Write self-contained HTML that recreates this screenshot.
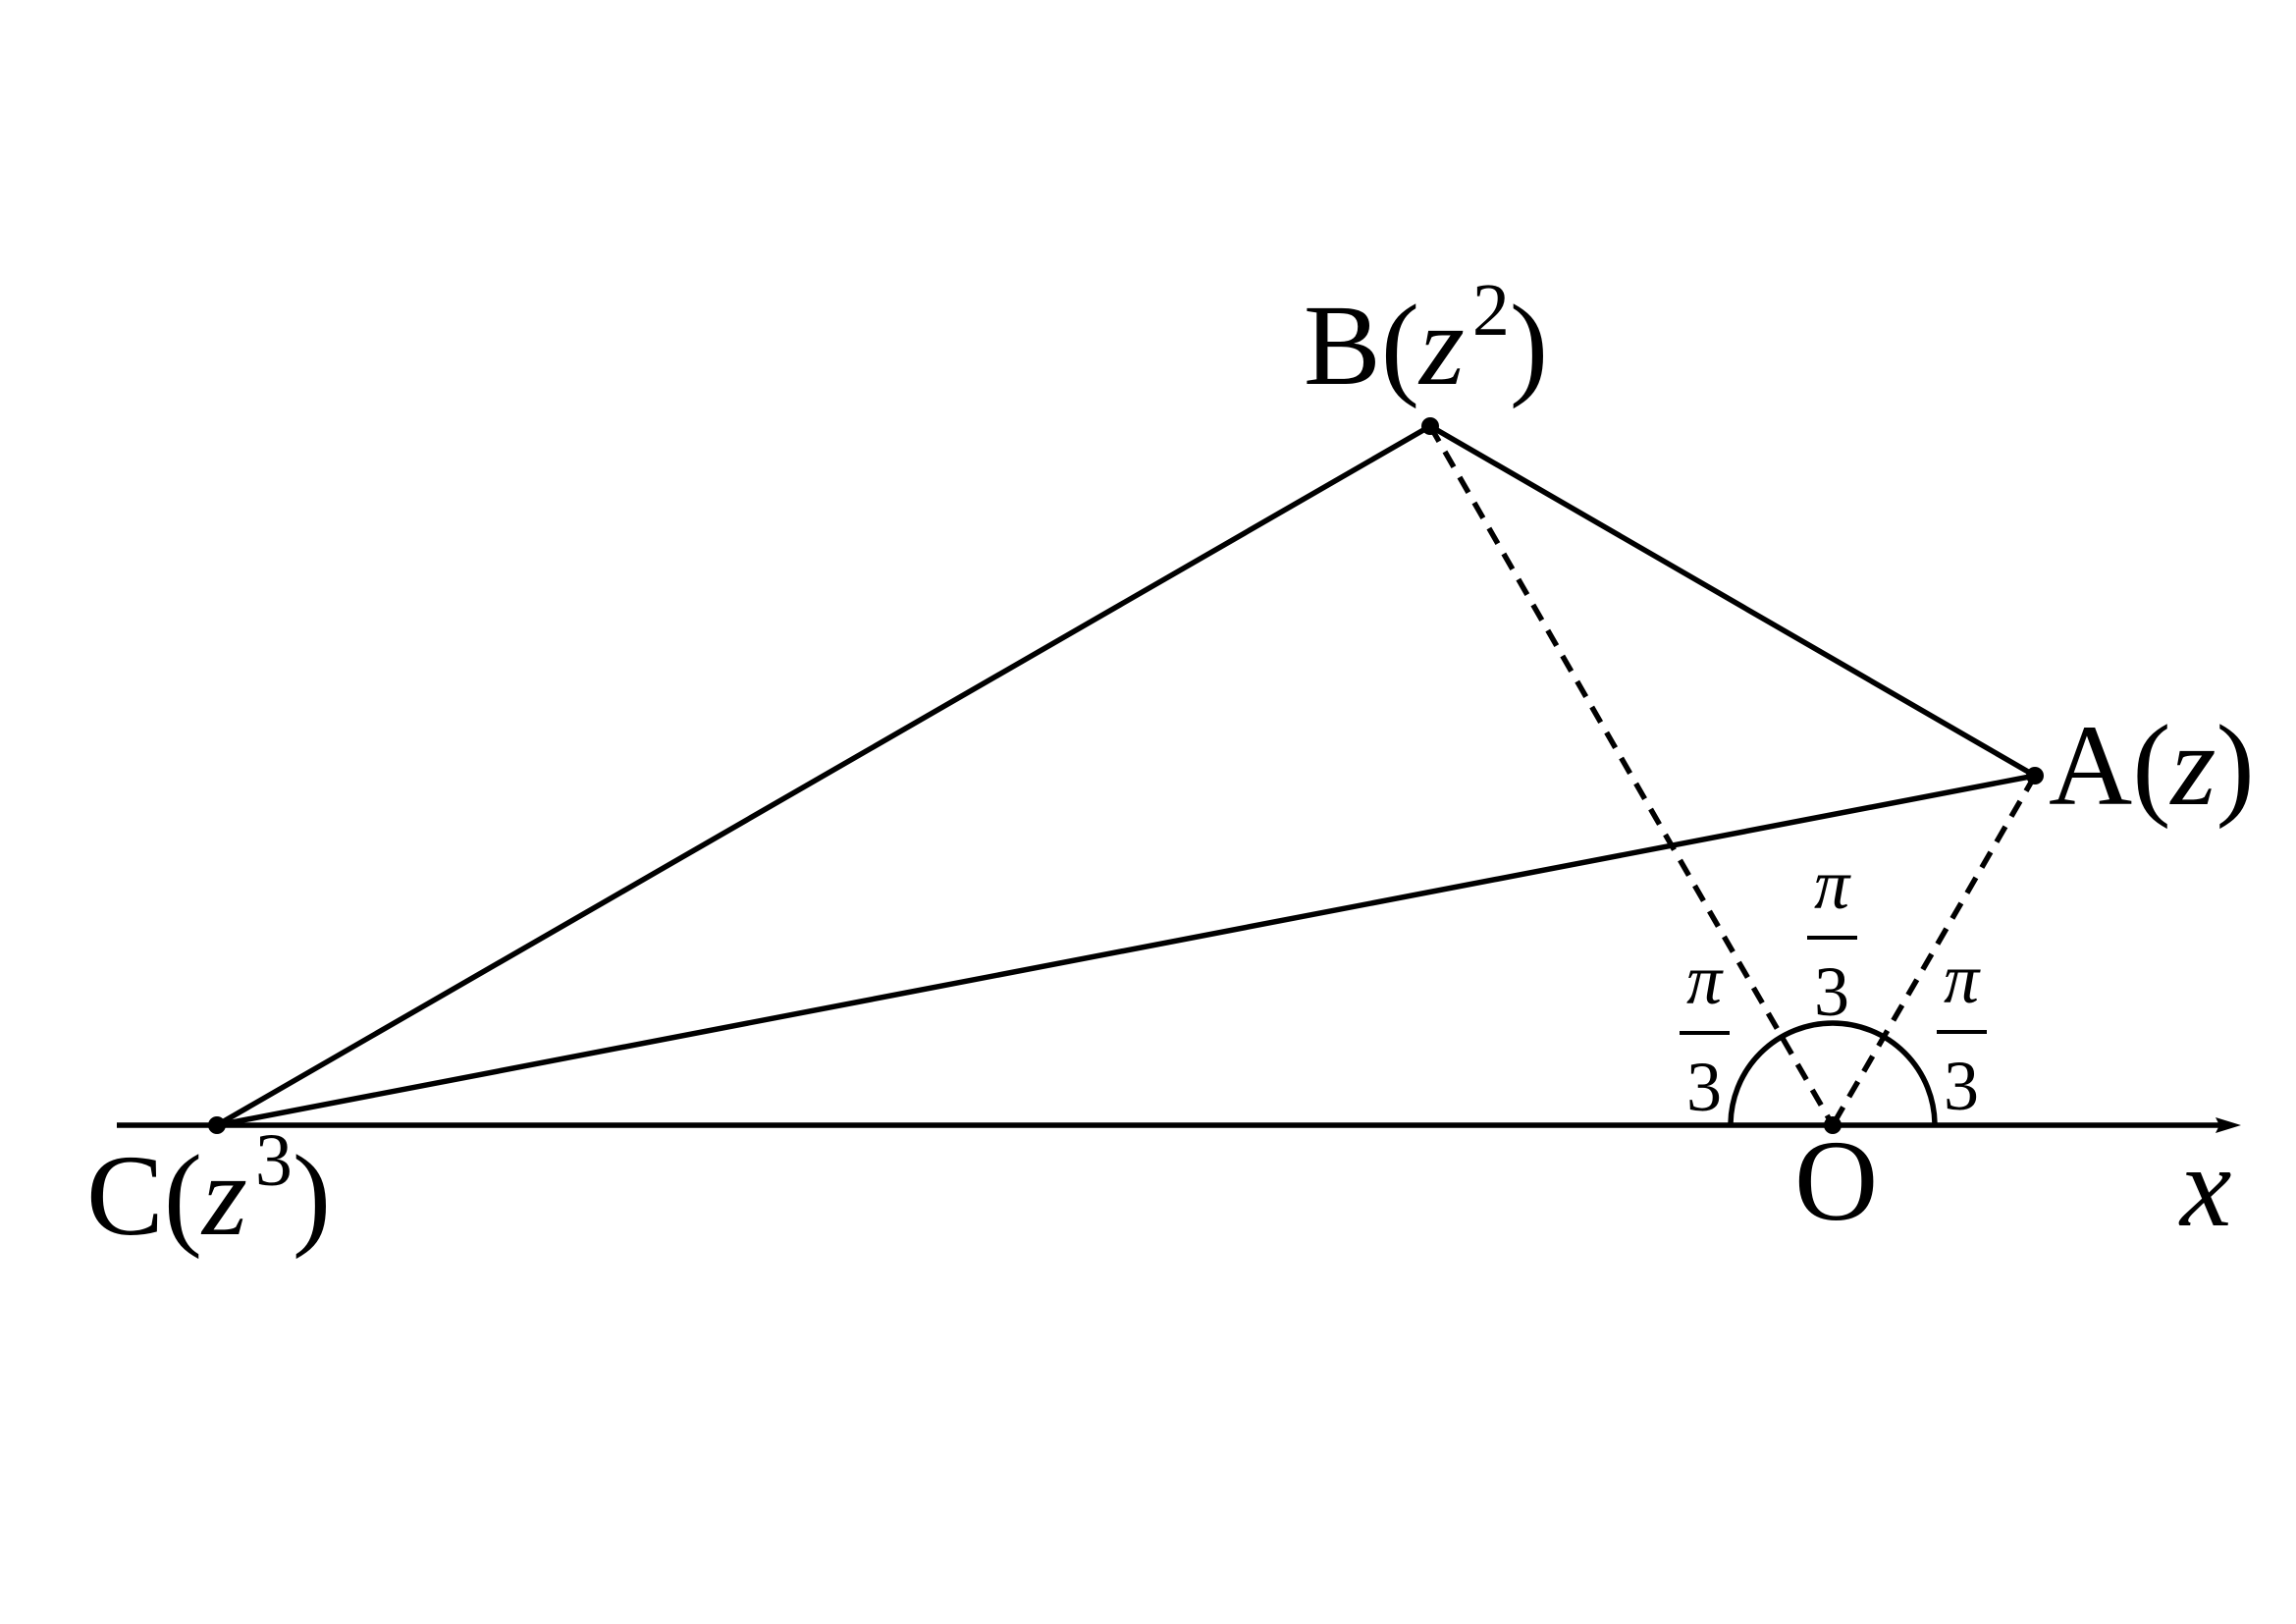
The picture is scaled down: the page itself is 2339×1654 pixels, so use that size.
<!DOCTYPE html>
<html><head><meta charset="utf-8"><style>html,body{margin:0;padding:0;background:#fff}svg{display:block}</style></head>
<body>
<svg width="2339" height="1654" viewBox="0 0 2339 1654" xmlns="http://www.w3.org/2000/svg" font-family="'Liberation Serif', serif" fill="#000">
<g stroke="#000" stroke-width="5.5" fill="none">
<line x1="119" y1="1146" x2="2262" y2="1146"/>
<line x1="221" y1="1146" x2="1457" y2="434"/>
<line x1="1457" y1="434" x2="2073" y2="790"/>
<line x1="221" y1="1146" x2="2073" y2="790"/>
<line x1="1457" y1="434" x2="1867" y2="1146" stroke-dasharray="18,12"/>
<line x1="2073" y1="790" x2="1867" y2="1146" stroke-dasharray="18,12"/>
<path d="M1763 1146 A104 104 0 0 1 1971 1146"/>
</g>
<polygon points="2283,1146 2257,1138 2261,1146 2257,1154"/>
<circle cx="1457" cy="434" r="9"/><circle cx="2073" cy="790" r="9"/>
<circle cx="221" cy="1146" r="9"/><circle cx="1867" cy="1146" r="9"/>
<g font-size="118">
<text x="1328" y="391">B(<tspan font-style="italic">z</tspan><tspan font-size="76" dx="8" dy="-50">2</tspan><tspan dy="50">)</tspan></text>
<text x="2087" y="819">A(<tspan font-style="italic">z</tspan>)</text>
<text x="88" y="1257">C(<tspan font-style="italic">z</tspan><tspan font-size="76" dx="8" dy="-50">3</tspan><tspan dy="50">)</tspan></text>
<text x="1828" y="1242">O</text>
<text x="2221" y="1248" font-style="italic">x</text>
</g>
<g font-size="72" text-anchor="middle">
<text x="1866" y="925" font-style="italic">π</text><rect x="1841" y="953" width="51" height="4"/><text x="1866" y="1034">3</text>
<text x="1736" y="1022" font-style="italic">π</text><rect x="1711" y="1050" width="51" height="4"/><text x="1736" y="1131">3</text>
<text x="1998" y="1021" font-style="italic">π</text><rect x="1973" y="1049" width="51" height="4"/><text x="1998" y="1130">3</text>
</g>
</svg>
</body></html>
